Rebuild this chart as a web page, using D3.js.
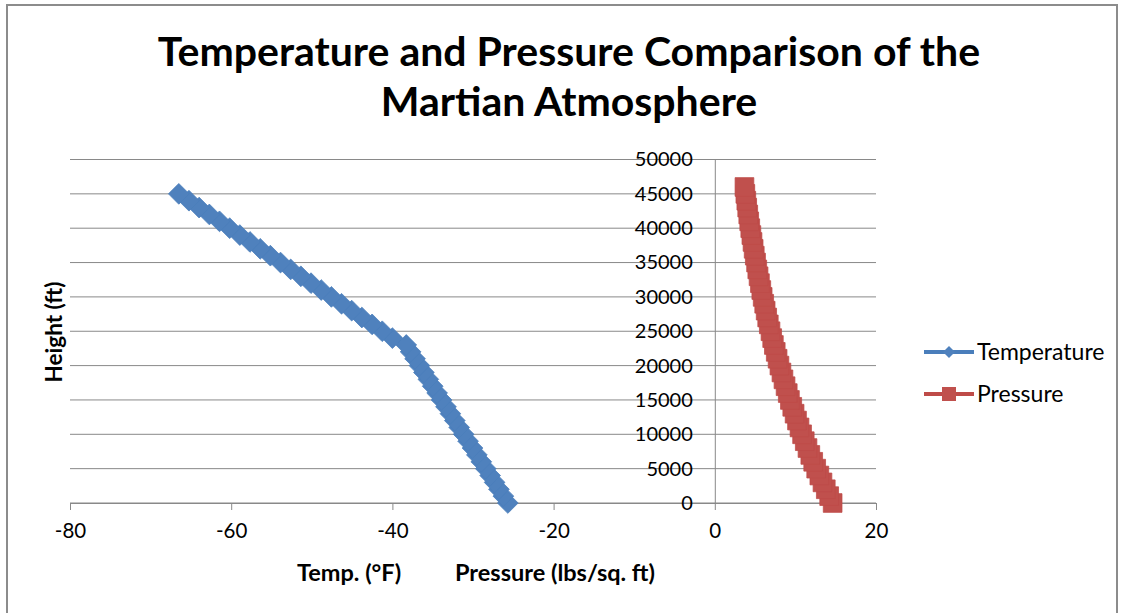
<!DOCTYPE html>
<html>
<head>
<meta charset="utf-8">
<script src="https://cdn.jsdelivr.net/npm/d3@7"></script>
<style>
	body { margin: 0; background: #fff; }
	svg { display: block; font-family: Lato, "Open Sans", sans-serif; }
</style>
</head>
<body>
<div id="chart"></div>
<script>
/**
 * Data
 */
var tempHeight = [0, 1000, 2000, 3000, 4000, 5000, 6000, 7000, 8000, 9000,
	10000, 11000, 12000, 13000, 14000, 15000, 16000, 17000, 18000, 19000,
	20000, 21000, 22000, 23000, 24000, 25000, 26000, 27000, 28000, 29000,
	30000, 31000, 32000, 33000, 34000, 35000, 36000, 37000, 38000, 39000,
	40000, 41000, 42000, 43000, 44000, 45000];
var tempValue = [-25.68, -26.23, -26.78, -27.32, -27.87, -28.42, -28.97, -29.52, -30.06, -30.61,
	-31.16, -31.71, -32.26, -32.80, -33.35, -33.90, -34.45, -35.00, -35.54, -36.09,
	-36.64, -37.19, -37.74, -38.28, -40.00, -41.26, -42.52, -43.79, -45.05, -46.31,
	-47.57, -48.83, -50.10, -51.36, -52.62, -53.88, -55.14, -56.40, -57.67, -58.93,
	-60.19, -61.45, -62.71, -63.98, -65.24, -66.50];

var pressHeight = [0, 1000, 2000, 3000, 4000, 5000, 6000, 7000, 8000, 9000,
	10000, 11000, 12000, 13000, 14000, 15000, 16000, 17000, 18000, 19000,
	20000, 21000, 22000, 23000, 24000, 25000, 26000, 27000, 28000, 29000,
	30000, 31000, 32000, 33000, 34000, 35000, 36000, 37000, 38000, 39000,
	40000, 41000, 42000, 43000, 44000, 45000, 46000];
var pressValue = [14.62, 14.19, 13.77, 13.36, 12.97, 12.58, 12.21, 11.85, 11.50, 11.16,
	10.83, 10.51, 10.20, 9.90, 9.61, 9.32, 9.05, 8.78, 8.52, 8.27,
	8.02, 7.79, 7.56, 7.33, 7.12, 6.91, 6.70, 6.50, 6.31, 6.13,
	5.94, 5.77, 5.60, 5.43, 5.27, 5.12, 4.96, 4.82, 4.68, 4.54,
	4.40, 4.27, 4.15, 4.02, 3.91, 3.79, 3.68];

var xTicks = [-80, -60, -40, -20, 0, 20];
var yTicks = [0, 5000, 10000, 15000, 20000, 25000, 30000, 35000, 40000, 45000, 50000];

var titleLines = ["Temperature and Pressure Comparison of the", "Martian Atmosphere"];
var xTitles = ["Temp. (°F)", "Pressure (lbs/sq. ft)"];
var seriesNames = ["Temperature", "Pressure"];

// Layout
var W = 1124, H = 613;
var plot = { left: 70, right: 876, top: 159.5, bottom: 503 };
var colors = {
	temp: { line: "#4a7ebb", fill: "#4f81bd" },
	press: { line: "#be4b48", fill: "#c0504d" },
	grid: "#898989"
};

var svg = d3.select("#chart").append("svg")
	.attr("width", W).attr("height", H);

// Chart border
svg.append("rect")
	.attr("x", 7).attr("y", 5).attr("width", 1110).attr("height", 620)
	.attr("fill", "#fff").attr("stroke", "#8c8c8c").attr("stroke-width", 2);

// Scales
var x = d3.scaleLinear().domain([-80, 20]).range([plot.left, plot.right]);
var y = d3.scaleLinear().domain([0, 50000]).range([plot.bottom, plot.top]);

// Gridlines
svg.append("g").selectAll("line").data(yTicks).join("line")
	.attr("x1", plot.left).attr("x2", plot.right)
	.attr("y1", function(d) { return y(d); }).attr("y2", function(d) { return y(d); })
	.attr("stroke", colors.grid).attr("stroke-width", 1);

// X axis (crosses at y = 0), plain hyphen for negatives like Excel
var gx = svg.append("g")
	.attr("transform", "translate(0," + y(0) + ")")
	.call(d3.axisBottom(x).tickValues(xTicks).tickSize(7).tickSizeOuter(0).tickPadding(13)
		.tickFormat(function(d) { return String(d); }));
gx.select(".domain").attr("stroke", colors.grid);
gx.selectAll(".tick line").attr("stroke", colors.grid);
gx.selectAll(".tick text").attr("font-size", 20.5).attr("fill", "#000")
	.attr("font-family", "Lato");

// Y axis (crosses at x = 0)
var gy = svg.append("g")
	.attr("transform", "translate(" + x(0) + ",0)")
	.call(d3.axisLeft(y).tickValues(yTicks).tickSize(0).tickPadding(22).tickFormat(d3.format("d")));
gy.select(".domain").attr("stroke", colors.grid);
gy.selectAll(".tick text").attr("font-size", 20).attr("fill", "#000")
	.attr("font-family", "Lato");

// Series
var line = d3.line()
	.x(function(d) { return x(d.v); })
	.y(function(d) { return y(d.h); });

var tempData = tempHeight.map(function(h, i) { return { h: h, v: tempValue[i] }; });
var pressData = pressHeight.map(function(h, i) { return { h: h, v: pressValue[i] }; });

function drawSeries(data, c, symbol, size, rotate) {
	svg.append("path").datum(data)
		.attr("d", line)
		.attr("fill", "none").attr("stroke", c.line).attr("stroke-width", 3.5);
	svg.append("g").selectAll("path").data(data).join("path")
		.attr("d", d3.symbol().type(symbol).size(size))
		.attr("transform", function(d) {
			return "translate(" + x(d.v) + "," + y(d.h) + ")" + (rotate ? " rotate(45)" : "");
		})
		.attr("fill", c.fill).attr("stroke", c.line).attr("stroke-width", 0.75);
}
drawSeries(tempData, colors.temp, d3.symbolSquare, 215, true);
drawSeries(pressData, colors.press, d3.symbolSquare, 350, false);

// Title
svg.append("g").selectAll("text").data(titleLines).join("text")
	.attr("x", 569).attr("y", function(d, i) { return 66 + i * 50; })
	.attr("text-anchor", "middle")
	.attr("font-size", 41).attr("font-weight", "bold")
	.text(function(d) { return d; });

// Axis titles
svg.append("g").selectAll("text").data(xTitles).join("text")
	.attr("x", function(d, i) { return i == 0 ? 297 : 455; }).attr("y", 581)
	.attr("font-size", 23.5).attr("font-weight", "bold")
	.text(function(d) { return d; });

svg.append("text")
	.attr("transform", "translate(62,332) rotate(-90)")
	.attr("text-anchor", "middle")
	.attr("font-size", 22.5).attr("font-weight", "bold")
	.text("Height (ft)");

// Legend
var legend = svg.append("g");
[colors.temp, colors.press].forEach(function(c, i) {
	var ly = 352 + i * 42;
	legend.append("line")
		.attr("x1", 924).attr("x2", 974).attr("y1", ly).attr("y2", ly)
		.attr("stroke", c.line).attr("stroke-width", 4);
	legend.append("path")
		.attr("d", d3.symbol().type(d3.symbolSquare).size(i == 0 ? 72 : 196))
		.attr("transform", "translate(949," + ly + ")" + (i == 0 ? " rotate(45)" : ""))
		.attr("fill", c.fill);
	legend.append("text")
		.attr("x", 977).attr("y", ly).attr("dy", "0.35em")
		.attr("font-size", 23)
		.text(seriesNames[i]);
});
</script>
</body>
</html>
